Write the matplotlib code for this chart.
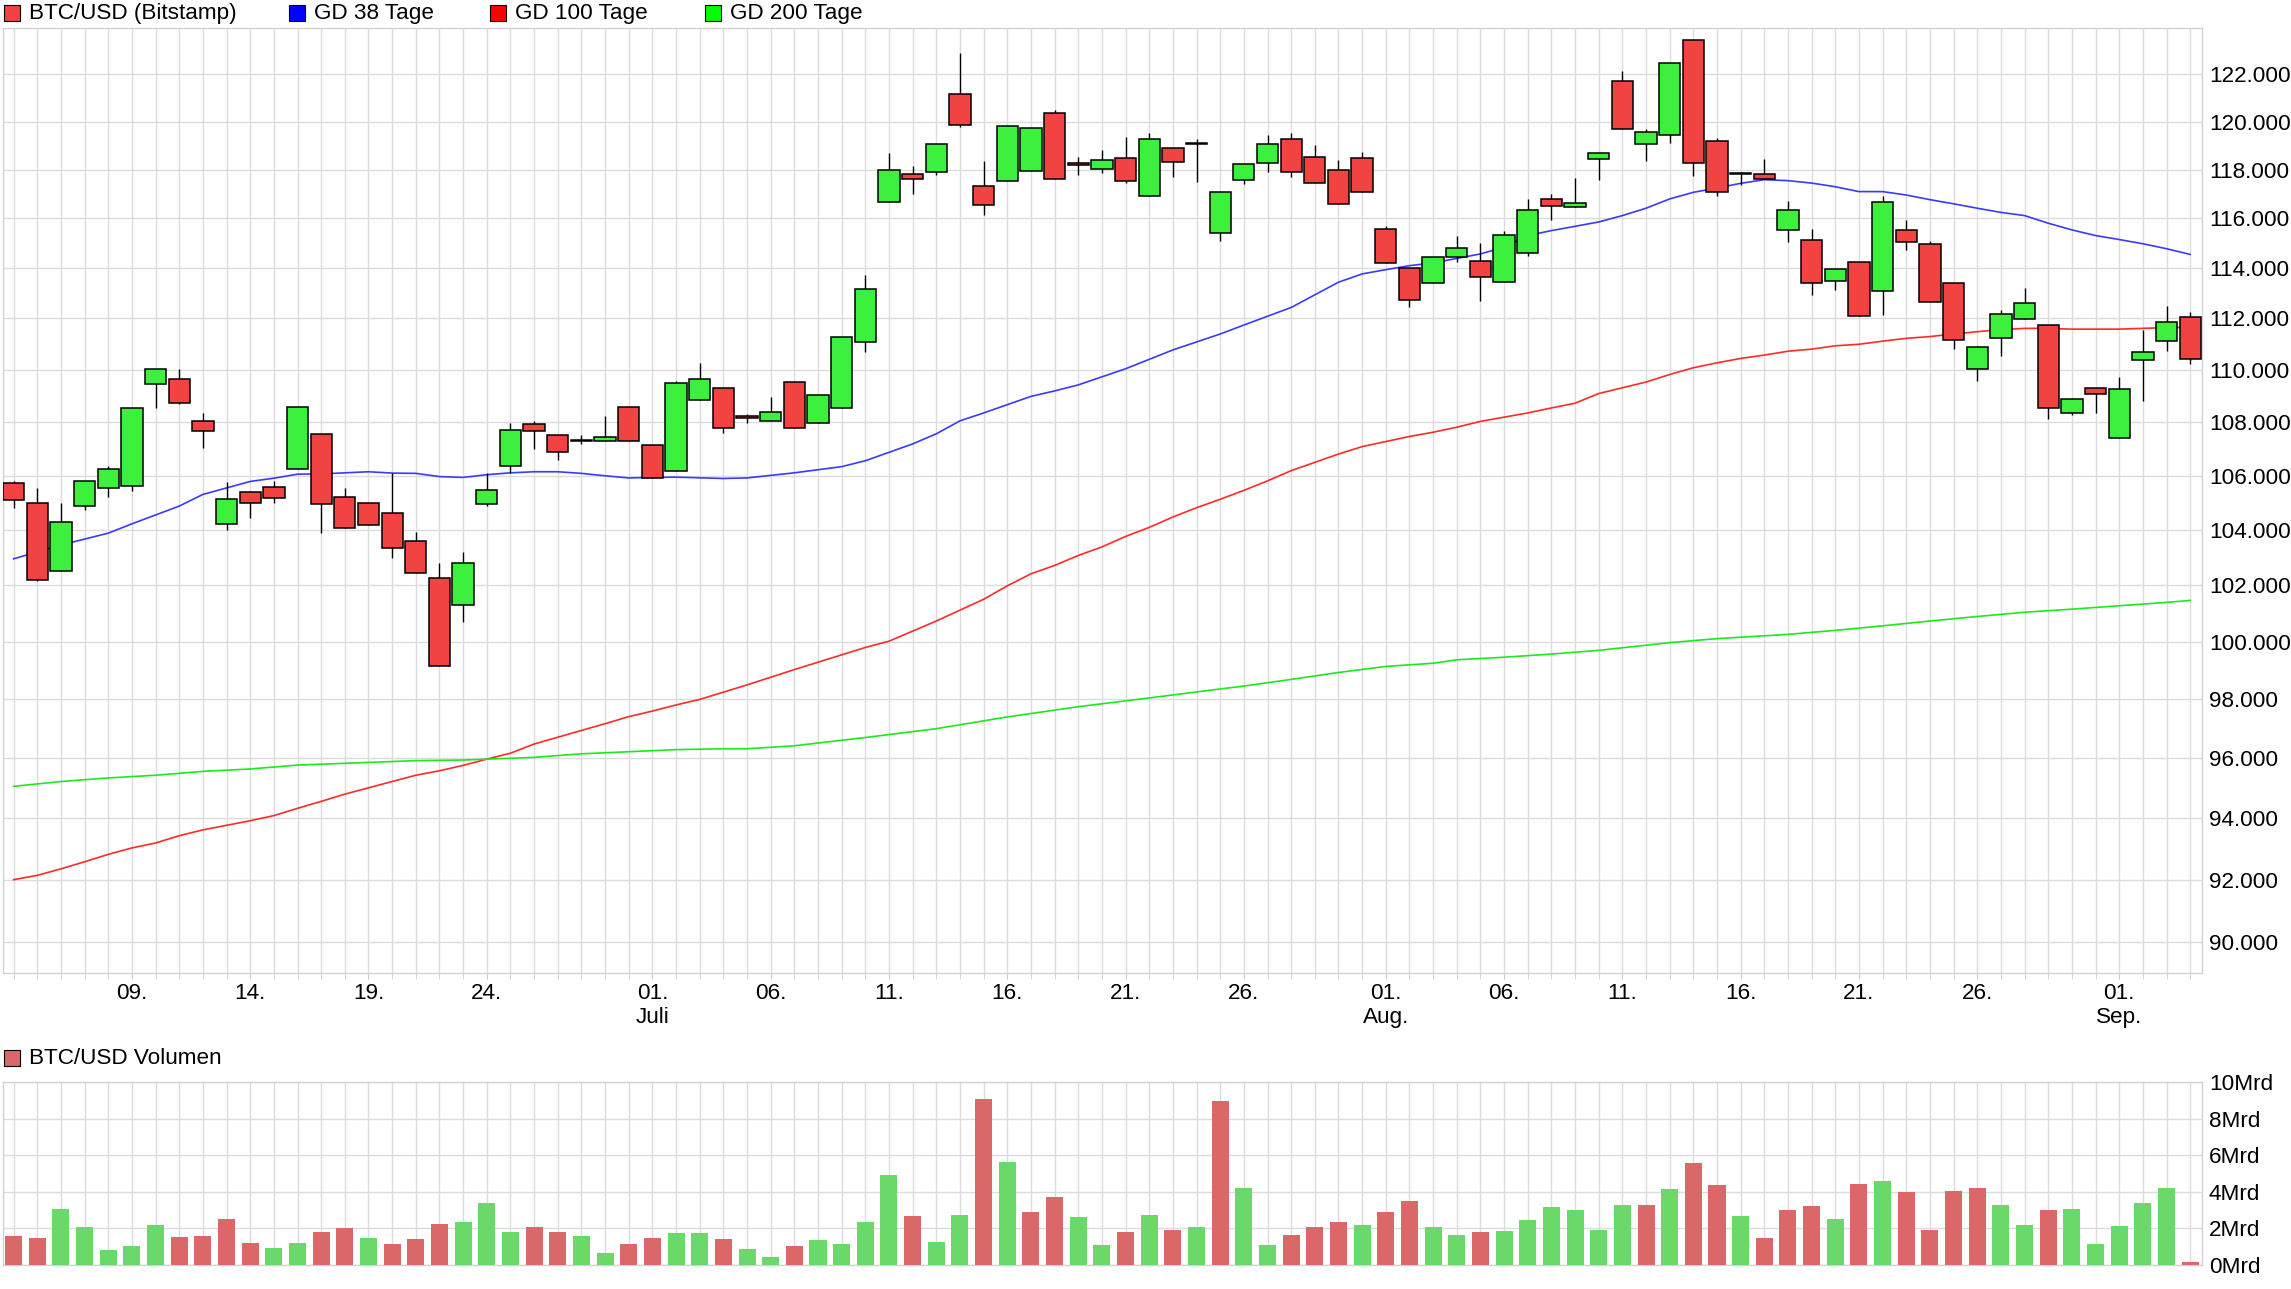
import matplotlib
matplotlib.use("Agg")
import matplotlib.pyplot as plt
import matplotlib.ticker as mticker
from matplotlib.patches import Rectangle
import numpy as np
import pandas as pd

plt.rcParams['font.family'] = ['Liberation Sans', 'DejaVu Sans']

# daily candles, BTC/USD (Bitstamp), prices in thousand USD
dates = pd.date_range("2025-06-04", "2025-09-04", freq="D")

opens = [105.74, 105.00, 102.52, 104.88, 105.52, 105.62, 109.47, 109.66, 108.04, 104.21,
         105.40, 105.59, 106.26, 107.55, 105.22, 104.99, 104.62, 103.60, 102.27, 101.28,
         104.96, 106.37, 107.92, 107.51, 107.32, 107.28, 108.57, 107.13, 106.15, 108.83,
         109.32, 108.23, 108.03, 109.55, 107.96, 108.53, 111.06, 116.65, 117.80, 117.88,
         121.15, 117.31, 117.54, 117.92, 120.34, 118.29, 118.04, 118.46, 116.90, 118.88,
         119.10, 115.40, 117.55, 118.29, 119.25, 118.50, 118.00, 118.46, 115.56, 114.00,
         113.40, 114.43, 114.27, 113.44, 114.59, 116.77, 116.45, 118.42, 121.70, 119.08,
         119.42, 123.48, 119.17, 117.86, 117.80, 115.52, 115.11, 113.48, 114.23, 113.07,
         115.52, 114.95, 113.40, 110.04, 111.22, 111.96, 111.76, 108.34, 109.32, 107.40,
         110.39, 111.10, 112.04]
highs = [105.80, 105.53, 104.97, 105.80, 106.34, 108.53, 110.04, 110.05, 108.35, 105.75,
         105.42, 105.79, 108.57, 107.55, 105.53, 104.99, 106.11, 103.93, 102.79, 103.18,
         106.11, 107.97, 108.04, 107.51, 107.51, 108.24, 108.57, 107.13, 109.57, 110.25,
         109.32, 108.30, 108.97, 109.55, 109.02, 111.29, 113.72, 118.68, 118.14, 119.08,
         122.93, 118.35, 119.80, 119.72, 120.48, 118.51, 118.79, 119.35, 119.54, 118.88,
         119.26, 117.06, 118.21, 119.43, 119.51, 119.01, 118.38, 118.72, 115.68, 114.00,
         114.43, 115.29, 115.00, 115.48, 116.78, 116.98, 117.64, 118.67, 122.14, 119.68,
         122.48, 123.48, 119.29, 117.90, 118.43, 116.70, 115.57, 113.95, 114.23, 116.90,
         115.92, 115.07, 113.40, 110.94, 112.32, 113.21, 111.76, 108.91, 109.32, 109.71,
         111.54, 112.48, 112.24]
lows = [104.80, 102.15, 102.50, 104.72, 105.20, 105.42, 108.53, 108.70, 107.04, 104.01,
        104.42, 104.98, 106.26, 103.87, 104.06, 104.17, 102.98, 102.45, 99.15, 100.70,
        104.87, 106.11, 106.99, 106.59, 107.16, 107.28, 107.28, 105.89, 106.15, 108.83,
        107.60, 107.98, 108.03, 107.77, 107.96, 108.53, 110.69, 116.65, 117.00, 117.78,
        119.78, 116.15, 117.54, 117.92, 117.62, 117.78, 117.86, 117.45, 116.90, 117.70,
        117.50, 115.10, 117.41, 117.90, 117.70, 117.46, 116.57, 117.06, 114.19, 112.46,
        113.40, 114.25, 112.70, 113.44, 114.46, 115.95, 116.45, 117.56, 119.67, 118.36,
        119.10, 117.74, 116.92, 117.37, 117.59, 115.03, 112.94, 113.14, 112.08, 112.14,
        114.70, 112.64, 110.81, 109.57, 110.54, 111.96, 108.13, 108.29, 108.33, 107.40,
        108.82, 110.73, 110.22]
closes = [105.10, 102.19, 104.29, 105.78, 106.26, 108.53, 110.04, 108.72, 107.66, 105.14,
          104.99, 105.18, 108.57, 104.96, 104.06, 104.17, 103.35, 102.45, 99.15, 102.81,
          105.48, 107.70, 107.66, 106.87, 107.30, 107.43, 107.28, 105.89, 109.51, 109.66,
          107.77, 108.15, 108.38, 107.77, 109.02, 111.29, 113.16, 118.00, 117.59, 119.08,
          119.86, 116.53, 119.80, 119.72, 117.62, 118.17, 118.40, 117.51, 119.25, 118.33,
          119.05, 117.06, 118.21, 119.04, 117.88, 117.46, 116.57, 117.06, 114.19, 112.72,
          114.43, 114.79, 113.63, 115.32, 116.33, 116.49, 116.61, 118.67, 119.67, 119.58,
          122.48, 118.29, 117.06, 117.83, 117.59, 116.33, 113.40, 113.95, 112.08, 116.65,
          115.03, 112.64, 111.14, 110.90, 112.16, 112.60, 108.53, 108.87, 109.09, 109.28,
          110.68, 111.87, 110.43]

# volume in Mrd USD
volumes = [1.57, 1.46, 3.05, 2.07, 0.80, 1.02, 2.18, 1.52, 1.57, 2.50,
           1.19, 0.91, 1.19, 1.79, 2.01, 1.46, 1.13, 1.41, 2.23, 2.34,
           3.38, 1.79, 2.07, 1.79, 1.57, 0.64, 1.13, 1.46, 1.74, 1.74,
           1.41, 0.86, 0.42, 1.02, 1.35, 1.13, 2.34, 4.92, 2.67, 1.24,
           2.72, 9.09, 5.63, 2.89, 3.71, 2.61, 1.08, 1.79, 2.72, 1.90,
           2.07, 8.98, 4.20, 1.08, 1.63, 2.07, 2.34, 2.18, 2.89, 3.49,
           2.07, 1.63, 1.79, 1.85, 2.45, 3.16, 3.00, 1.90, 3.27, 3.27,
           4.15, 5.58, 4.37, 2.67, 1.46, 3.00, 3.22, 2.50, 4.42, 4.59,
           3.99, 1.90, 4.04, 4.20, 3.27, 2.18, 3.00, 3.05, 1.13, 2.12,
           3.38, 4.20, 0.15]
first_day_up = False

# moving averages (day index, thousand USD)
ma38_days = [0, 2, 4, 5, 7, 8, 10, 11, 12, 13, 15, 16, 17, 18, 19, 20, 21, 22, 23, 24,
             25, 26, 27, 28, 30, 31, 33, 35, 36, 38, 39, 40, 41, 43, 44, 45, 47, 49, 51, 52,
             54, 56, 57, 58, 59, 60, 62, 63, 64, 65, 67, 68, 69, 70, 71, 72, 73, 74, 75, 76,
             77, 78, 79, 80, 81, 82, 83, 84, 85, 86, 87, 88, 89, 90, 91, 92]
ma38_vals = [102.95, 103.45, 103.88, 104.22, 104.87, 105.30, 105.78, 105.90, 106.05, 106.06,
             106.14, 106.09, 106.08, 105.96, 105.93, 106.03, 106.10, 106.14, 106.14, 106.08,
             105.99, 105.91, 105.93, 105.94, 105.89, 105.91, 106.10, 106.33, 106.55, 107.18,
             107.56, 108.05, 108.35, 108.98, 109.19, 109.42, 110.04, 110.77, 111.39, 111.74,
             112.43, 113.43, 113.76, 113.93, 114.09, 114.20, 114.56, 114.83, 115.30, 115.50,
             115.85, 116.11, 116.41, 116.79, 117.06, 117.24, 117.43, 117.58, 117.54, 117.44,
             117.29, 117.09, 117.09, 116.95, 116.76, 116.59, 116.41, 116.24, 116.11, 115.80,
             115.53, 115.30, 115.14, 114.97, 114.77, 114.54]

ma100_days = [0, 1, 2, 3, 4, 5, 6, 7, 8, 9, 10, 11, 12, 13, 14, 15, 16, 17, 18, 19,
              20, 21, 22, 23, 24, 25, 26, 27, 28, 29, 31, 33, 36, 37, 39, 41, 42, 43, 44, 45,
              46, 47, 48, 49, 50, 51, 52, 53, 54, 55, 56, 57, 58, 59, 60, 61, 62, 63, 64, 65,
              66, 67, 69, 70, 71, 72, 73, 74, 75, 76, 77, 78, 79, 80, 81, 82, 83, 84, 85, 86,
              87, 88, 89, 90, 91, 92]
ma100_vals = [92.00, 92.14, 92.35, 92.58, 92.82, 93.03, 93.19, 93.43, 93.62, 93.77,
              93.92, 94.09, 94.33, 94.56, 94.80, 95.01, 95.22, 95.43, 95.58, 95.76,
              95.97, 96.17, 96.48, 96.71, 96.94, 97.17, 97.41, 97.60, 97.81, 98.00,
              98.50, 99.03, 99.80, 100.02, 100.73, 101.50, 101.98, 102.41, 102.71, 103.07,
              103.38, 103.76, 104.09, 104.47, 104.81, 105.12, 105.45, 105.80, 106.18, 106.49,
              106.80, 107.08, 107.27, 107.46, 107.62, 107.81, 108.03, 108.19, 108.35, 108.54,
              108.72, 109.09, 109.53, 109.82, 110.08, 110.27, 110.44, 110.57, 110.72, 110.80,
              110.93, 110.99, 111.11, 111.22, 111.29, 111.39, 111.48, 111.56, 111.61, 111.61,
              111.58, 111.58, 111.58, 111.61, 111.64, 111.65]

ma200_days = [0, 2, 4, 6, 8, 10, 12, 14, 16, 17, 19, 20, 22, 24, 26, 28, 30, 31, 33, 36,
              39, 42, 45, 48, 51, 52, 54, 56, 58, 60, 61, 63, 65, 67, 70, 72, 75, 77, 79, 81,
              83, 85, 87, 89, 91, 92]
ma200_vals = [95.06, 95.22, 95.34, 95.43, 95.56, 95.64, 95.77, 95.83, 95.89, 95.92,
              95.94, 95.97, 96.03, 96.15, 96.22, 96.29, 96.32, 96.32, 96.42, 96.70,
              97.00, 97.40, 97.75, 98.05, 98.36, 98.46, 98.69, 98.93, 99.14, 99.25,
              99.37, 99.46, 99.57, 99.70, 99.97, 100.11, 100.26, 100.40, 100.56, 100.73,
              100.89, 101.04, 101.15, 101.27, 101.39, 101.46]

tick_dates = ["2025-06-09", "2025-06-14", "2025-06-19", "2025-06-24", "2025-07-01",
              "2025-07-06", "2025-07-11", "2025-07-16", "2025-07-21", "2025-07-26",
              "2025-08-01", "2025-08-06", "2025-08-11", "2025-08-16", "2025-08-21",
              "2025-08-26", "2025-09-01"]
tick_labels = ["09.", "14.", "19.", "24.", "01.\nJuli", "06.", "11.", "16.", "21.", "26.",
               "01.\nAug.", "06.", "11.", "16.", "21.", "26.", "01.\nSep."]

price_ticks = list(range(90000, 122001, 2000))
vol_ticks = [0, 2, 4, 6, 8, 10]

candle_red = '#f24343'
candle_green = '#3ef03e'
vol_red = '#da6868'
vol_green = '#6ad96a'
grid_col = '#dcdcdc'
fs = 16.2

W, H = 2291, 1289
fig = plt.figure(figsize=(W / 100, H / 100), dpi=100)


def box(l, t, r, b):
    return [l / W, 1 - b / H, (r - l) / W, (b - t) / H]


ax = fig.add_axes(box(2.5, 28, 2202, 973))
axv = fig.add_axes(box(2.5, 1082, 2202, 1265))

x = np.arange(len(dates))
o = np.array(opens) * 1000
h = np.array(highs) * 1000
l = np.array(lows) * 1000
c = np.array(closes) * 1000
up = c >= o
cols = np.where(up, candle_green, candle_red)

ax.plot(ma38_days, np.array(ma38_vals) * 1000, color='#3a3aff', lw=1.2, zorder=2)
ax.plot(ma100_days, np.array(ma100_vals) * 1000, color='#ff2a2a', lw=1.2, zorder=2)
ax.plot(ma200_days, np.array(ma200_vals) * 1000, color='#1ee81e', lw=1.2, zorder=2)

ax.vlines(x, l, h, color='black', lw=1.0, zorder=3)
ax.bar(x, np.abs(c - o), bottom=np.minimum(o, c), width=0.9, color=cols,
       edgecolor='black', linewidth=1.1, zorder=4)

ax.set_yscale('log')
ax.set_ylim(89040, 124000)
ax.set_xlim(-0.47, 92.5)
ax.yaxis.set_major_locator(mticker.FixedLocator(price_ticks))
ax.yaxis.set_minor_locator(mticker.NullLocator())
ax.yaxis.set_major_formatter(mticker.FuncFormatter(lambda v, p: f"{v:,.0f}".replace(",", ".")))
ax.yaxis.tick_right()
ax.tick_params(axis='y', length=0, pad=5, labelsize=fs)

tick_pos = [dates.get_loc(pd.Timestamp(d)) for d in tick_dates]
ax.set_xticks(x, minor=True)
ax.set_xticks(tick_pos)
ax.set_xticklabels(tick_labels)
ax.tick_params(axis='x', which='both', length=4, color='#cccccc', labelsize=fs, pad=3)
ax.grid(True, which='both', color=grid_col, lw=1.0)
ax.set_axisbelow(True)

# volume panel
vol_up = [first_day_up] + [closes[i] >= closes[i - 1] for i in range(1, len(closes))]
vcols = [vol_green if u else vol_red for u in vol_up]
axv.bar(x, volumes, width=0.72, color=vcols, zorder=3)
axv.set_xlim(-0.47, 92.5)
axv.set_ylim(0, 10)
axv.set_yticks(vol_ticks)
axv.set_yticklabels([f"{v}Mrd" for v in vol_ticks])
axv.yaxis.tick_right()
axv.tick_params(axis='y', length=0, pad=5, labelsize=fs)
axv.set_xticks(x, minor=True)
axv.set_xticks([])
axv.tick_params(axis='x', which='both', length=0, labelbottom=False)
axv.grid(True, which='both', color=grid_col, lw=1.0)
axv.set_axisbelow(True)

for a in (ax, axv):
    for s in a.spines.values():
        s.set_color('#d2d2d2')
        s.set_linewidth(1.0)

# legends
legend_items = [(4, 29, candle_red, "BTC/USD (Bitstamp)"),
                (289, 314, '#0000ff', "GD 38 Tage"),
                (490, 515, '#ff0000', "GD 100 Tage"),
                (705, 730, '#00ff00', "GD 200 Tage")]
for sx, tx, col, txt in legend_items:
    fig.patches.append(Rectangle((sx / W, 1 - 21 / H), 16 / W, 16 / H, transform=fig.transFigure,
                                 facecolor=col, edgecolor='black', lw=0.8))
    fig.text(tx / W, 1 - 13 / H, txt, fontsize=fs, va='center', ha='left')

fig.patches.append(Rectangle((4 / W, 1 - 1066 / H), 16 / W, 16 / H, transform=fig.transFigure,
                             facecolor=vol_red, edgecolor='black', lw=0.8))
fig.text(29 / W, 1 - 1058 / H, "BTC/USD Volumen", fontsize=fs, va='center', ha='left')

fig.savefig("out.png", dpi=100)
